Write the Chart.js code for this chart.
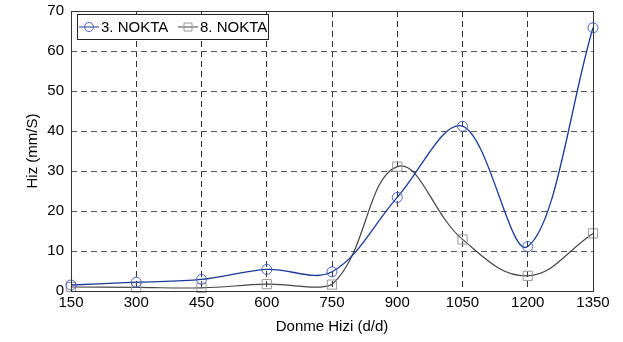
<!DOCTYPE html>
<html lang="tr">
<head>
<meta charset="UTF-8">
<title>Hiz - Donme Hizi</title>
<script src="https://cdn.jsdelivr.net/npm/chart.js"></script>
<style>
  html, body { margin: 0; padding: 0; background: #fff; }
  #kutu { width: 623px; height: 342px; }
</style>
</head>
<body>
<div id="kutu"><canvas id="grafik"></canvas></div>
<script>
// veriler
const donmeHizi = [150, 300, 450, 600, 750, 900, 1050, 1200, 1350];
const nokta3 = [1.5, 2.2, 2.9, 5.4, 4.8, 23.4, 41.2, 11.1, 65.8];
const nokta8 = [1.0, 0.9, 0.8, 1.7, 1.6, 31.1, 12.9, 3.8, 14.4];
const yTikler = [0, 10, 20, 30, 40, 50, 60, 70];

const yazi = { family: "'Liberation Sans', Arial, Helvetica, sans-serif", size: 15 };

function seri(x, y) {
    return x.map((v, i) => ({ x: v, y: y[i] }));
}

// legend kutusu ve cerceve
const cercevePlugin = {
    id: 'cerceve',
    afterDatasetsDraw(chart) {
        const { ctx, chartArea: a } = chart;
        ctx.save();
        ctx.strokeStyle = '#333';
        ctx.lineWidth = 1;
        ctx.setLineDash([]);
        ctx.strokeRect(a.left + 0.5, a.top + 0.5, a.right - a.left, a.bottom - a.top);

        // legend
        const lx = a.left + 6, ly = a.top + 3, lw = 191, lh = 25;
        ctx.fillStyle = '#fff';
        ctx.fillRect(lx, ly, lw, lh);
        ctx.strokeStyle = '#222';
        ctx.strokeRect(lx + 0.5, ly + 0.5, lw, lh);
        const cy = ly + lh / 2 + 0.5;
        ctx.font = '15px ' + yazi.family;
        ctx.textBaseline = 'middle';
        const ogeler = [
            { x: lx + 2, ds: chart.data.datasets[0] },
            { x: lx + 101, ds: chart.data.datasets[1] }
        ];
        ogeler.forEach(o => {
            ctx.strokeStyle = o.ds.borderColor;
            ctx.lineWidth = 1;
            ctx.beginPath();
            ctx.moveTo(o.x, cy);
            ctx.lineTo(o.x + 20, cy);
            ctx.stroke();
            ctx.strokeStyle = o.ds.pointBorderColor;
            ctx.beginPath();
            if (o.ds.pointStyle === 'circle') {
                ctx.arc(o.x + 10, cy, 4.5, 0, Math.PI * 2);
            } else {
                ctx.rect(o.x + 6, cy - 4, 8, 8);
            }
            ctx.stroke();
            ctx.fillStyle = '#000';
            ctx.fillText(o.ds.label, o.x + 22, cy + 1);
        });
        ctx.restore();
    }
};

const ctx = document.getElementById('grafik').getContext('2d');
new Chart(ctx, {
    type: 'line',
    data: {
        datasets: [{
            label: '3. NOKTA',
            data: seri(donmeHizi, nokta3),
            borderColor: '#1a3a9a',
            borderWidth: 1.3,
            pointStyle: 'circle',
            pointRadius: 5,
            pointBorderColor: '#4a62c4',
            pointBackgroundColor: 'rgba(0,0,0,0)',
            pointBorderWidth: 1,
            tension: 0.35,
            clip: false
        }, {
            label: '8. NOKTA',
            data: seri(donmeHizi, nokta8),
            borderColor: '#444',
            borderWidth: 1.2,
            pointStyle: 'rect',
            pointRadius: 6.5,
            pointBorderColor: '#999',
            pointBackgroundColor: 'rgba(0,0,0,0)',
            pointBorderWidth: 1,
            tension: 0.4,
            clip: false
        }]
    },
    options: {
        responsive: true,
        maintainAspectRatio: false,
        animation: false,
        layout: { padding: { top: 11, right: 30, left: 0, bottom: 0 } },
        plugins: { legend: { display: false }, tooltip: { enabled: false } },
        scales: {
            x: {
                type: 'linear',
                min: 150,
                max: 1350,
                afterBuildTicks: s => { s.ticks = donmeHizi.map(v => ({ value: v })); },
                afterFit: s => { s.height = 51; s.paddingLeft = 0; s.paddingRight = 0; },
                ticks: { font: yazi, color: '#000', padding: 3, maxRotation: 0, callback: v => String(v) },
                grid: { color: '#333', lineWidth: 1, drawTicks: false },
                border: { display: false, dash: [6, 4] },
                title: { display: true, text: 'Donme Hizi (d/d)', font: yazi, color: '#000', padding: { bottom: 6 } }
            },
            y: {
                min: 0,
                max: 70,
                afterBuildTicks: s => { s.ticks = yTikler.map(v => ({ value: v })); },
                afterFit: s => { s.width = 71; s.paddingTop = 0; s.paddingBottom = 0; },
                ticks: { font: yazi, color: '#000', padding: 7, callback: v => String(v) },
                grid: { color: '#555', lineWidth: 1, drawTicks: false },
                border: { display: false, dash: [6, 4] },
                title: { display: true, text: 'Hiz (mm/S)', font: yazi, color: '#000', padding: { top: 24 } }
            }
        }
    },
    plugins: [cercevePlugin]
});
</script>
</body>
</html>
